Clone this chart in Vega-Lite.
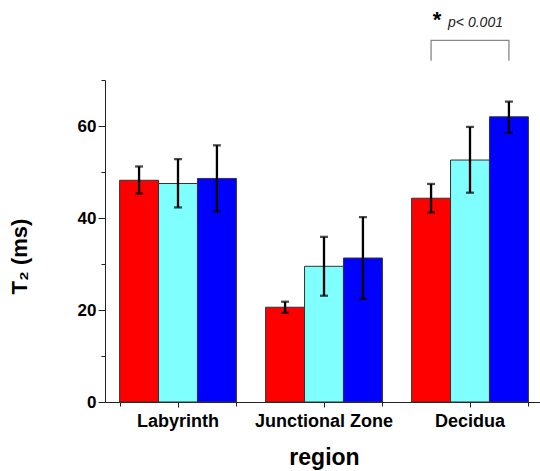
{
  "$schema": "https://vega.github.io/schema/vega-lite/v6.json",
  "autosize": {"type": "none"},
  "padding": {"left": 105, "top": 80, "right": 0, "bottom": 69},
  "width": 435,
  "height": 322,
  "background": "white",
  "config": {
    "view": {"stroke": null},
    "font": "Liberation Sans",
    "axis": {"grid": false, "domainColor": "#222", "tickColor": "#222", "labelColor": "#000", "titleColor": "#000", "labelFont": "Liberation Sans", "titleFont": "Liberation Sans", "labelFontWeight": "bold", "titleFontWeight": "bold"}
  },
  "data": {
    "values": [
      {"region": "Labyrinth", "group": "g1", "value": 48.2, "lo": 45.3, "hi": 51.2},
      {"region": "Labyrinth", "group": "g2", "value": 47.5, "lo": 42.3, "hi": 52.8},
      {"region": "Labyrinth", "group": "g3", "value": 48.6, "lo": 41.4, "hi": 55.8},
      {"region": "Junctional Zone", "group": "g1", "value": 20.6, "lo": 19.4, "hi": 21.8},
      {"region": "Junctional Zone", "group": "g2", "value": 29.5, "lo": 23.1, "hi": 35.9},
      {"region": "Junctional Zone", "group": "g3", "value": 31.3, "lo": 22.4, "hi": 40.2},
      {"region": "Decidua", "group": "g1", "value": 44.3, "lo": 41.2, "hi": 47.4},
      {"region": "Decidua", "group": "g2", "value": 52.6, "lo": 45.5, "hi": 59.8},
      {"region": "Decidua", "group": "g3", "value": 62.0, "lo": 58.5, "hi": 65.3}
    ]
  },
  "encoding": {
    "x": {"field": "region", "type": "nominal", "sort": ["Labyrinth", "Junctional Zone", "Decidua"],
          "scale": {"range": [0, 438], "paddingInner": 0.2, "paddingOuter": 0.1}, "axis": null},
    "xOffset": {"field": "group", "type": "nominal", "sort": ["g1", "g2", "g3"]}
  },
  "layer": [
    {
      "mark": {"type": "bar", "stroke": "#333", "strokeWidth": 1},
      "encoding": {
        "x": {"field": "region", "type": "nominal", "sort": ["Labyrinth", "Junctional Zone", "Decidua"],
              "axis": {"orient": "bottom", "title": "region", "labelAngle": 0, "labelFontSize": 18, "labelPadding": 5, "tickSize": 5, "titleFontSize": 23, "titlePadding": 16}},
        "y": {"field": "value", "type": "quantitative", "scale": {"domain": [0, 70], "nice": false},
              "axis": {"orient": "left", "title": "T₂ (ms)", "values": [0, 20, 40, 60], "labelFontSize": 17, "labelPadding": 2, "tickSize": 7, "titleFontSize": 22, "titlePadding": 46, "titleY": 176}},
        "color": {"field": "group", "type": "nominal", "scale": {"domain": ["g1", "g2", "g3"], "range": ["#ff0000", "#80ffff", "#0000ff"]}, "legend": null}
      }
    },
    {
      "mark": {"type": "rule", "color": "#000", "strokeWidth": 2.3},
      "encoding": {
        "x": {"field": "region", "type": "nominal", "sort": ["Labyrinth", "Junctional Zone", "Decidua"],
              "axis": {"orient": "bottom", "title": null, "labels": false, "domain": false, "tickBand": "extent", "tickSize": 4}},
        "y": {"field": "lo", "type": "quantitative",
              "axis": {"orient": "left", "title": null, "labels": false, "domain": false, "values": [10, 30, 50, 70], "tickSize": 4}},
        "y2": {"field": "hi"}
      }
    },
    {
      "mark": {"type": "tick", "color": "#000", "thickness": 2.3, "size": 8, "orient": "horizontal"},
      "encoding": {
        "y": {"field": "lo", "type": "quantitative", "axis": null}
      }
    },
    {
      "mark": {"type": "tick", "color": "#000", "thickness": 2.3, "size": 8, "orient": "horizontal"},
      "encoding": {
        "y": {"field": "hi", "type": "quantitative", "axis": null}
      }
    },
    {
      "data": {"values": [
        {"region": "Decidua", "group": "g1", "v": 74.2, "o": 1},
        {"region": "Decidua", "group": "g1", "v": 78.6, "o": 2},
        {"region": "Decidua", "group": "g3", "v": 78.6, "o": 3},
        {"region": "Decidua", "group": "g3", "v": 74.2, "o": 4}
      ]},
      "mark": {"type": "line", "color": "#888", "strokeWidth": 1.3},
      "encoding": {
        "y": {"field": "v", "type": "quantitative", "axis": null},
        "order": {"field": "o", "type": "quantitative"}
      }
    },
    {
      "data": {"values": [{"region": "Decidua", "group": "g1", "v": 81.6, "star": "*", "p": "p< 0.001"}]},
      "mark": {"type": "text", "fontSize": 22, "fontWeight": "bold", "color": "#000", "align": "center", "baseline": "alphabetic", "dx": 6},
      "encoding": {
        "y": {"field": "v", "type": "quantitative", "axis": null},
        "text": {"field": "star"}
      }
    },
    {
      "data": {"values": [{"region": "Decidua", "group": "g1", "v": 81.6, "star": "*", "p": "p< 0.001"}]},
      "mark": {"type": "text", "fontSize": 14, "fontStyle": "italic", "color": "#222", "align": "left", "baseline": "alphabetic", "dx": 17},
      "encoding": {
        "y": {"field": "v", "type": "quantitative", "axis": null},
        "text": {"field": "p"}
      }
    }
  ],
  "resolve": {"axis": {"x": "independent", "y": "independent"}}
}
